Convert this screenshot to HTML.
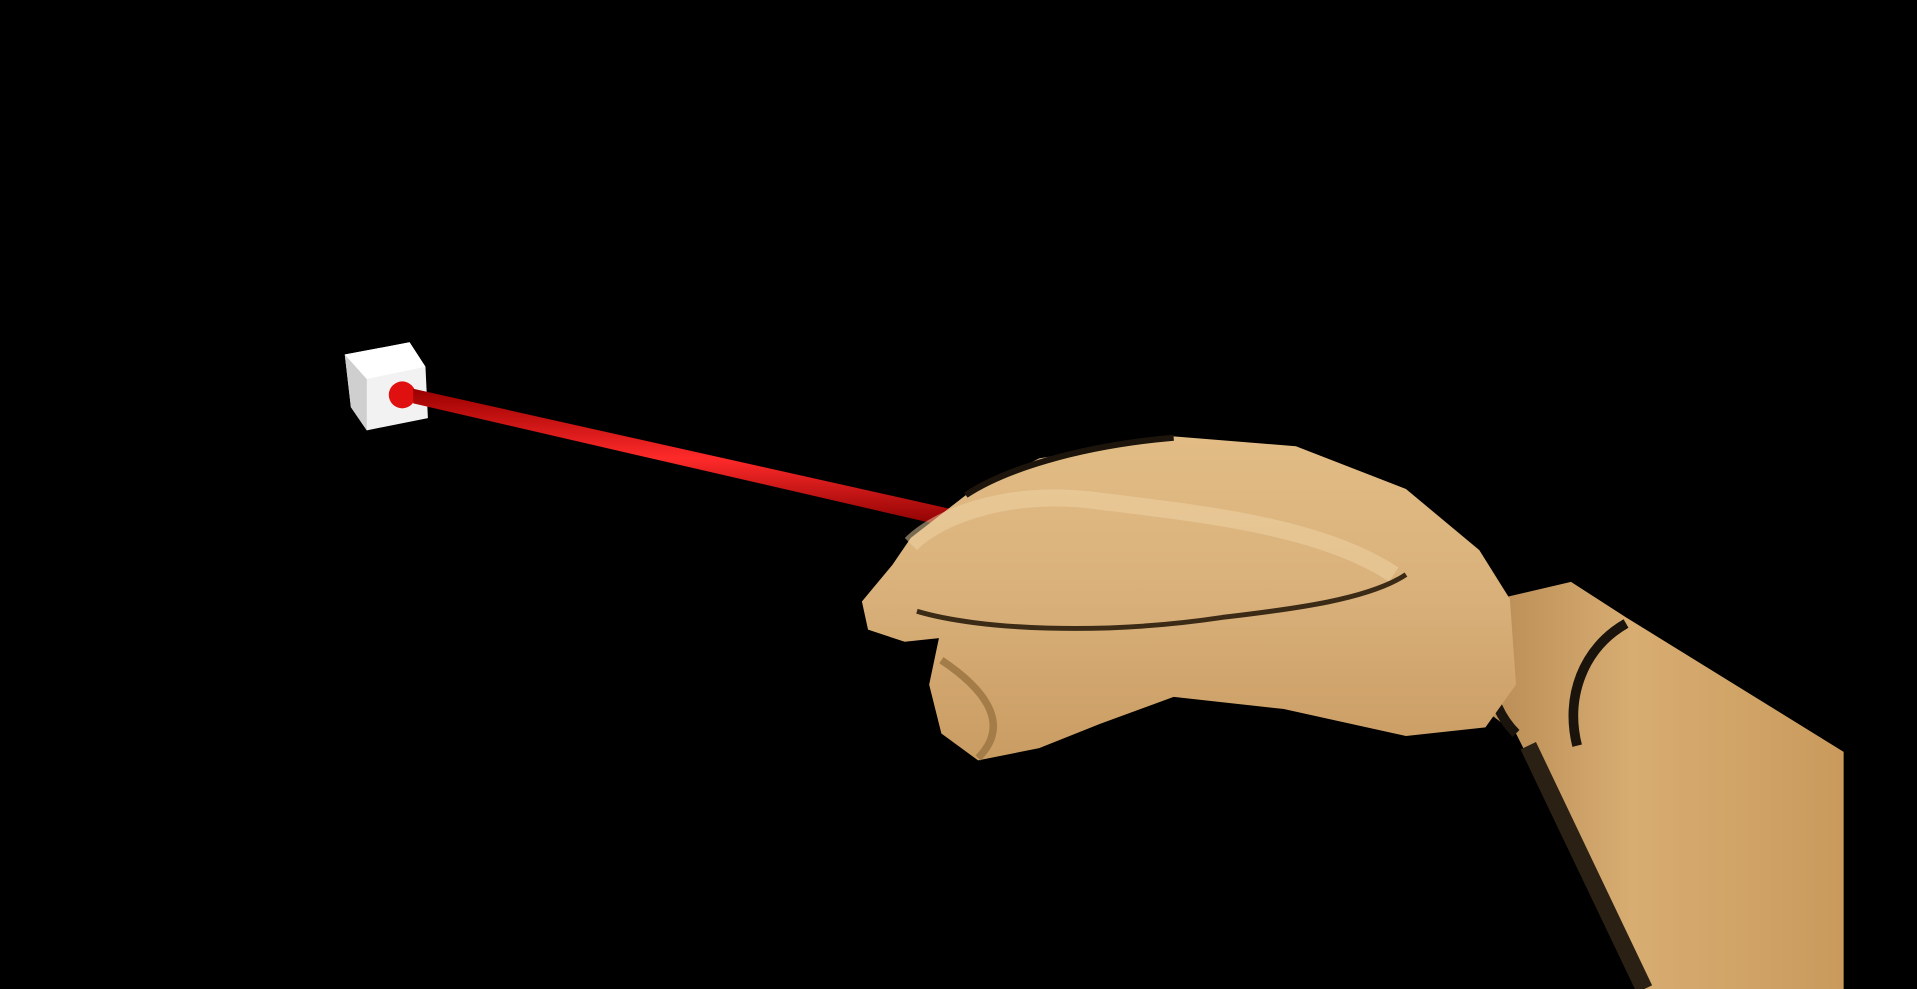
<!DOCTYPE html>
<html><head><meta charset="utf-8"><style>
html,body{margin:0;padding:0;background:#000;overflow:hidden}
svg{display:block}
</style></head><body>
<svg width="1917" height="989" viewBox="0 0 1568 809" preserveAspectRatio="none" xmlns="http://www.w3.org/2000/svg">
<defs>
<linearGradient id="wood" x1="0" y1="0" x2="0" y2="1">
<stop offset="0" stop-color="#e2bc85"/><stop offset="0.5" stop-color="#d9b07a"/><stop offset="1" stop-color="#c99c62"/>
</linearGradient>
<linearGradient id="arm" x1="0" y1="0" x2="1" y2="0">
<stop offset="0" stop-color="#b98d55"/><stop offset="0.4" stop-color="#d8ad72"/><stop offset="1" stop-color="#c99a5c"/>
</linearGradient>
<linearGradient id="laser" x1="0" y1="0" x2="0" y2="1">
<stop offset="0" stop-color="#900"/><stop offset="0.5" stop-color="#ff2a2a"/><stop offset="1" stop-color="#800"/>
</linearGradient>
</defs>
<rect width="1568" height="809" fill="#000"/>
<g>
<polygon points="282,290 335,280 348,300 350,342 300,352 287,333" fill="#f2f2f2"/>
<polygon points="282,290 300,310 300,352 287,333" fill="#cfcfcf"/>
<polygon points="282,290 335,280 348,300 300,310" fill="#ffffff"/>
<circle cx="329" cy="323" r="11" fill="#e01010"/>
</g>
<polygon points="338,318 785,418 780,432 338,330" fill="url(#laser)"/>
<g>
<polygon points="1225,490 1285,476 1330,505 1508,615 1508,809 1345,809 1240,600 1220,585" fill="url(#arm)"/>
<path d="M1225,490 C1210,530 1215,575 1240,600" stroke="#1a140c" stroke-width="8" fill="none"/>
<path d="M1330,510 C1295,530 1280,570 1290,610" stroke="#1a140c" stroke-width="8" fill="none"/>
<path d="M1250,610 L1345,809" stroke="#2a2014" stroke-width="14" fill="none"/>
</g>
<g>
<polygon points="745,440 790,405 850,375 960,357 1060,365 1150,400 1210,450 1235,490 1240,560 1215,595 1150,602 1050,580 960,570 900,592 850,612 800,622 770,600 760,560 768,522 740,525 710,515 705,492 730,462" fill="url(#wood)"/>
<path d="M745,445 C770,420 830,400 900,410 C980,420 1080,430 1140,470" stroke="#f0d6a8" stroke-width="14" fill="none" opacity="0.5"/>
<path d="M750,500 C800,515 900,520 1000,505 C1060,498 1120,490 1150,470" stroke="#3a2a16" stroke-width="4" fill="none"/>
<path d="M790,405 C820,385 880,365 960,358" stroke="#1d150b" stroke-width="5" fill="none"/>
<path d="M770,540 C800,560 830,590 800,620" stroke="#a47c48" stroke-width="6" fill="none"/>
</g>
</svg>
</body></html>
